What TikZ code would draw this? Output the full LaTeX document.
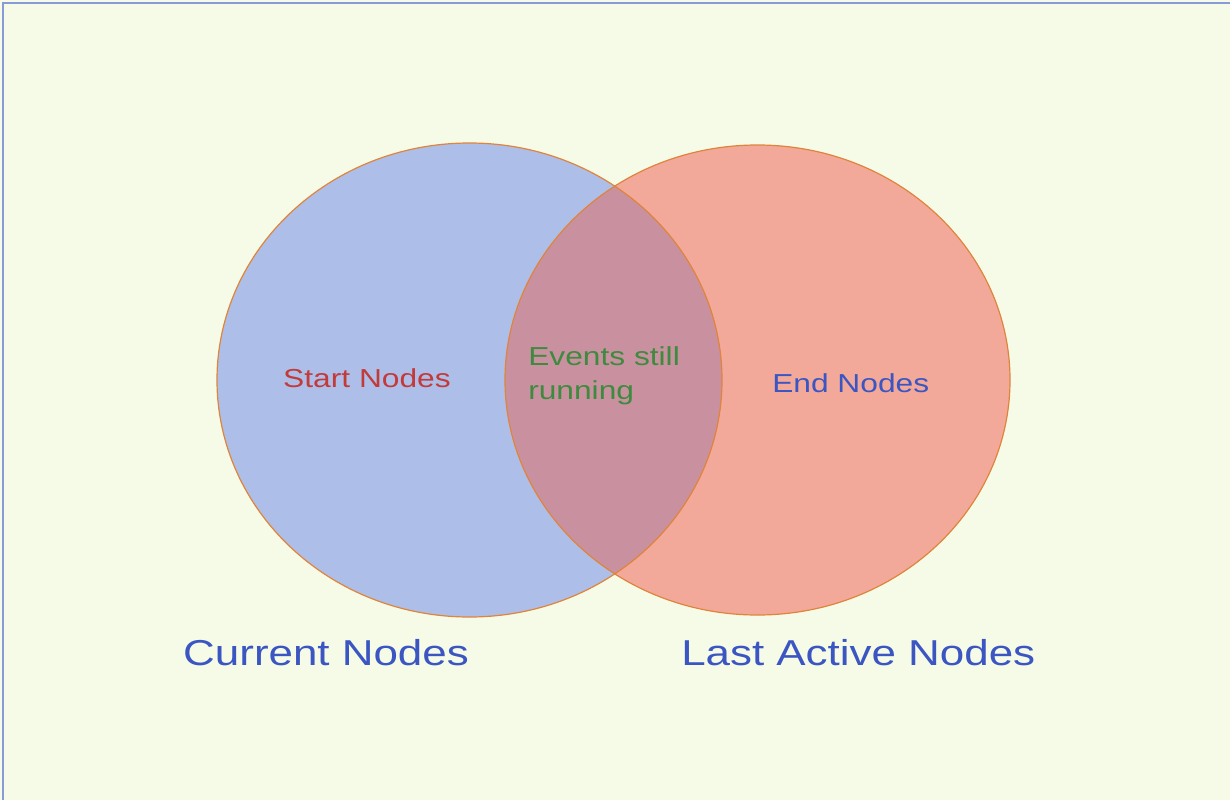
\documentclass[tikz,border=0pt]{standalone}
\usepackage{fontspec}
\setmainfont{Liberation Sans}
\definecolor{bg}{HTML}{F5FBE6}
\definecolor{frame}{HTML}{8A9AD8}
\definecolor{bluefill}{HTML}{ADBFE9}
\definecolor{redfill}{HTML}{F3A999}
\definecolor{mixfill}{HTML}{C9919F}
\definecolor{outline}{HTML}{E0843C}
\definecolor{txtblue}{HTML}{3B56C2}
\definecolor{txtred}{HTML}{C23A3A}
\definecolor{txtgreen}{HTML}{3E8A3E}
\tikzset{
  lbl/.style={anchor=base west, inner sep=0pt, xscale=1.22, transform shape},
  small/.style={lbl, font=\fontsize{26}{30}\selectfont},
  big/.style={lbl, font=\fontsize{36}{40}\selectfont},
  ring/.style={draw=outline, line width=1.2pt}
}
\begin{document}
\begin{tikzpicture}[x=1pt,y=-1pt]
\useasboundingbox (0,0) rectangle (1230,800);
\fill[bg] (0,0) rectangle (1230,800);
\draw[frame, line width=2.5pt] (3,800) -- (3,3) -- (1230,3);
\coordinate (cb) at (469.5,380);
\coordinate (cr) at (757.5,380);
\fill[bluefill] (cb) ellipse [x radius=252.5, y radius=237];
\fill[redfill] (cr) ellipse [x radius=252.5, y radius=235];
\begin{scope}
  \clip (cb) ellipse [x radius=252.5, y radius=237];
  \fill[mixfill] (cr) ellipse [x radius=252.5, y radius=235];
\end{scope}
\draw[ring] (cb) ellipse [x radius=252.5, y radius=237];
\draw[ring] (cr) ellipse [x radius=252.5, y radius=235];
\node[small, text=txtred] (start) at (283,387) {Start Nodes};
\node[small, text=txtgreen] (ev1) at (528,365) {Events still};
\node[small, text=txtgreen] (ev2) at (528,399) {running};
\node[small, text=txtblue] (end) at (772,392) {End Nodes};
\node[big, text=txtblue] (cur) at (183,665) {Current Nodes};
\node[big, text=txtblue] (last) at (681,665) {Last Active Nodes};
\end{tikzpicture}
\end{document}
